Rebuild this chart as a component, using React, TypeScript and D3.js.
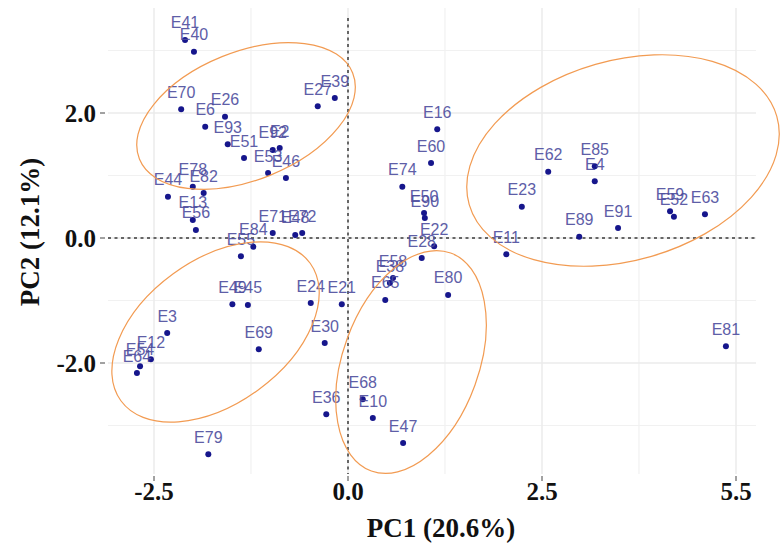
import React from "react";
import * as d3 from "d3";

// ---- data ----
const labels = [
  "E41","E40","E70","E6","E26","E93","E51","E92","E2","E53","E46","E27","E39",
  "E44","E78","E82","E13","E56","E71","E48","E72","E84","E55",
  "E49","E45","E24","E21","E3","E12","E54","E64","E69","E79","E30","E36",
  "E68","E10","E47","E80","E58","E38","E65",
  "E16","E60","E74","E50","E90","E22","E28","E11",
  "E23","E62","E85","E4","E89","E91","E59","E52","E63","E81"
];
const pc1 = [
  -2.10,-1.985,-2.15,-1.84,-1.585,-1.55,-1.34,-0.97,-0.88,-1.03,-0.80,-0.39,-0.17,
  -2.32,-2.00,-1.86,-2.00,-1.96,-0.97,-0.68,-0.59,-1.22,-1.38,
  -1.49,-1.29,-0.48,-0.08,-2.33,-2.54,-2.68,-2.72,-1.15,-1.80,-0.30,-0.28,
  0.19,0.32,0.71,1.29,0.58,0.54,0.48,
  1.15,1.07,0.70,0.98,0.99,1.11,0.95,2.04,
  2.24,2.58,3.18,3.18,2.98,3.48,4.15,4.20,4.60,4.87
];
const pc2 = [
  3.17,2.98,2.06,1.78,1.94,1.50,1.28,1.41,1.44,1.04,0.96,2.11,2.24,
  0.66,0.82,0.72,0.29,0.13,0.08,0.05,0.08,-0.14,-0.29,
  -1.06,-1.07,-1.04,-1.06,-1.52,-1.94,-2.05,-2.16,-1.78,-3.46,-1.68,-2.82,
  -2.58,-2.88,-3.28,-0.91,-0.64,-0.72,-0.99,
  1.74,1.20,0.82,0.40,0.32,-0.13,-0.32,-0.26,
  0.50,1.06,1.15,0.91,0.02,0.16,0.43,0.34,0.38,-1.73
];

const xTicks = [-2.5, 0, 2.5, 5];
const xTickLabels = ["-2.5", "0.0", "2.5", "5.5"];
const yTicks = [-2, 0, 2];
const yTickLabels = ["-2.0", "0.0", "2.0"];
const xMinor = [-1.25, 1.25, 3.75];
const yMinor = [-3, -1, 1, 3];

// cluster ellipse centres (data units)
const ellipseCX = [-1.314, -1.707, 0.812, 3.544];
const ellipseCY = [1.952, -1.504, -1.984, 1.24];

const xTitle = "PC1 (20.6%)";
const yTitle = "PC2 (12.1%)";

export default function App() {
  const W = 780, H = 555;
  const x = d3.scaleLinear().domain([-2.5, 5]).range([154, 736]);
  const y = d3.scaleLinear().domain([-2, 2]).range([363, 113]);
  const left = 108, right = 756, top = 8, bottom = 474;

  const ellSizes = [
    { rx: 115, ry: 64, rot: -22 },
    { rx: 117, ry: 72, rot: -36 },
    { rx: 116, ry: 68, rot: -70 },
    { rx: 160, ry: 100, rot: -16 },
  ];

  const serif = "'Liberation Serif', 'Times New Roman', serif";
  const sans = "'Liberation Sans', Arial, sans-serif";

  return (
    <svg width={W} height={H} style={{ position: "absolute", left: 0, top: 0, background: "#fff" }}>
      <rect width={W} height={H} fill="#fff" />
      {/* grid */}
      {xMinor.map((v, i) => (
        <line key={"xm" + i} x1={x(v)} x2={x(v)} y1={top} y2={bottom} stroke="#f1f1f1" strokeWidth={1.2} />
      ))}
      {yMinor.map((v, i) => (
        <line key={"ym" + i} x1={left} x2={right} y1={y(v)} y2={y(v)} stroke="#f1f1f1" strokeWidth={1.2} />
      ))}
      {xTicks.map((v, i) => (
        <line key={"xg" + i} x1={x(v)} x2={x(v)} y1={top} y2={bottom} stroke="#ebebeb" strokeWidth={1.5} />
      ))}
      {yTicks.map((v, i) => (
        <line key={"yg" + i} x1={left} x2={right} y1={y(v)} y2={y(v)} stroke="#ebebeb" strokeWidth={1.5} />
      ))}
      {/* zero lines */}
      <line x1={x(0)} x2={x(0)} y1={top + 10} y2={bottom} stroke="#666" strokeWidth={2} strokeDasharray="3,3.5" />
      <line x1={left} x2={right} y1={y(0)} y2={y(0)} stroke="#666" strokeWidth={2} strokeDasharray="3,3.5" />

      {/* ticks */}
      {yTicks.map((v, i) => (
        <g key={"yt" + i}>
          <line x1={100} x2={105} y1={y(v)} y2={y(v)} stroke="#444" strokeWidth={1} />
          <text x={96} y={y(v) + 8.5} textAnchor="end" fontFamily={serif} fontWeight="bold" fontSize={25} fill="#111">
            {yTickLabels[i]}
          </text>
        </g>
      ))}
      {xTicks.map((v, i) => (
        <g key={"xt" + i}>
          <line x1={x(v)} x2={x(v)} y1={476} y2={481} stroke="#444" strokeWidth={1} />
          <text x={x(v)} y={500} textAnchor="middle" fontFamily={serif} fontWeight="bold" fontSize={25} fill="#111">
            {xTickLabels[i]}
          </text>
        </g>
      ))}

      {/* points & labels */}
      {labels.map((lab, i) => (
        <g key={lab + i}>
          <text x={x(pc1[i])} y={y(pc2[i]) - 11.5} textAnchor="middle" fontFamily={sans} fontSize={16} fill="#4d4d9e" opacity={0.9}>
            {lab}
          </text>
          <circle cx={x(pc1[i])} cy={y(pc2[i])} r={3} fill="#16168c" />
        </g>
      ))}

      {/* ellipses */}
      {ellipseCX.map((cx, i) => {
        const px = x(cx), py = y(ellipseCY[i]);
        const s = ellSizes[i];
        return (
          <ellipse key={"e" + i} cx={px} cy={py} rx={s.rx} ry={s.ry}
            transform={`rotate(${s.rot}, ${px}, ${py})`}
            fill="none" stroke="#f29b52" strokeWidth={1.2} />
        );
      })}

      {/* titles */}
      <text x={441} y={537} textAnchor="middle" fontFamily={serif} fontWeight="bold" fontSize={27} fill="#111">
        {xTitle}
      </text>
      <text transform={`translate(39, 232) rotate(-90)`} textAnchor="middle" fontFamily={serif} fontWeight="bold" fontSize={27} fill="#111">
        {yTitle}
      </text>
    </svg>
  );
}
